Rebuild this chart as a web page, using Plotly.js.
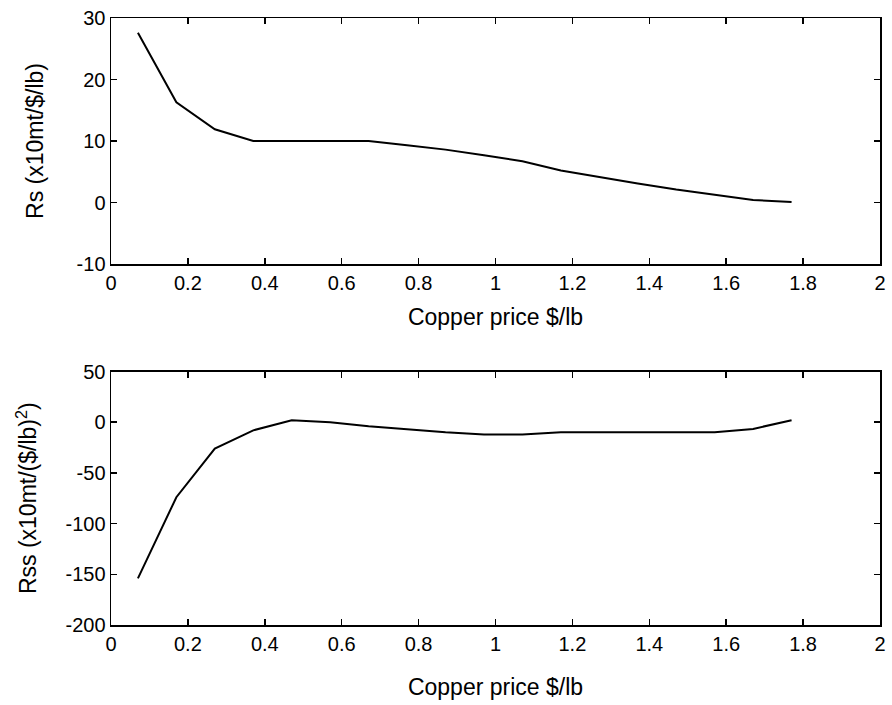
<!DOCTYPE html>
<html>
<head>
<meta charset="utf-8">
<script src="https://cdn.plot.ly/plotly-3.0.1.min.js"></script>
<style>html,body{margin:0;padding:0;background:#fff;}#chart{width:892px;height:705px;}</style>
</head>
<body>
<div id="chart"></div>
<script>
const price = [0.07,0.17,0.27,0.37,0.47,0.57,0.67,0.77,0.87,0.97,1.07,1.17,1.27,1.37,1.47,1.57,1.67,1.77];
const rs = [27.6,16.3,11.9,10.0,10.0,10.0,10.0,9.3,8.6,7.7,6.7,5.2,4.1,3.1,2.1,1.2,0.4,0.1];
const rss = [-154,-74,-26,-8,2,0,-4,-7,-10,-12,-12,-10,-10,-10.4,-10.7,-10,-6.6,2];
const xTicks = [0,0.2,0.4,0.6,0.8,1,1.2,1.4,1.6,1.8,2];
const xTickText = ['0','0.2','0.4','0.6','0.8','1','1.2','1.4','1.6','1.8','2'];
const rsTicks = [-10,0,10,20,30];
const rsTickText = ['-10','0','10','20','30'];
const rssTicks = [-200,-150,-100,-50,0,50];
const rssTickText = ['-200','-150','-100','-50','0','50'];

const font = {family: 'Liberation Sans, Arial, sans-serif', color: '#000'};
const tickFont = {family: font.family, size: 20, color: '#000'};
const titleFont = {family: font.family, size: 23, color: '#000'};

function xax(anchor, standoff) {
  return {
    anchor: anchor, range: [0, 2], tickvals: xTicks, ticktext: xTickText,
    ticks: 'inside', ticklen: 6, tickwidth: 1.5, tickcolor: '#000',
    showline: true, linecolor: '#000', linewidth: 1.5, mirror: 'ticks',
    showgrid: false, zeroline: false, tickfont: tickFont,
    title: {text: 'Copper price $/lb', font: titleFont, standoff: standoff}
  };
}
function yax(anchor, range, vals, text, domain, title, standoff) {
  return {
    anchor: anchor, range: range, tickvals: vals, ticktext: text, domain: domain,
    ticks: 'inside', ticklen: 6, tickwidth: 1.5, tickcolor: '#000',
    showline: true, linecolor: '#000', linewidth: 1.5, mirror: 'ticks',
    showgrid: false, zeroline: false, tickfont: tickFont,
    title: {text: title, font: titleFont, standoff: standoff}
  };
}

const data = [
  {x: price, y: rs, xaxis: 'x', yaxis: 'y', mode: 'lines', line: {color: '#000', width: 2}},
  {x: price, y: rss, xaxis: 'x2', yaxis: 'y2', mode: 'lines', line: {color: '#000', width: 2}}
];

const layout = {
  width: 892, height: 705,
  margin: {l: 111, r: 12, t: 18, b: 80},
  paper_bgcolor: '#fff', plot_bgcolor: '#fff',
  showlegend: false, font: font,
  xaxis: xax('y', 16),
  yaxis: yax('x', [-10, 30], rsTicks, rsTickText, [0.5947, 1], 'Rs (x10mt/$/lb)', 26),
  xaxis2: xax('y2', 25),
  yaxis2: yax('x2', [-200, 50], rssTicks, rssTickText, [0, 0.4176], 'Rss (x10mt/($/lb)<sup>2</sup>)', 22)
};

Plotly.newPlot('chart', data, layout, {staticPlot: true, displayModeBar: false});
</script>
</body>
</html>
